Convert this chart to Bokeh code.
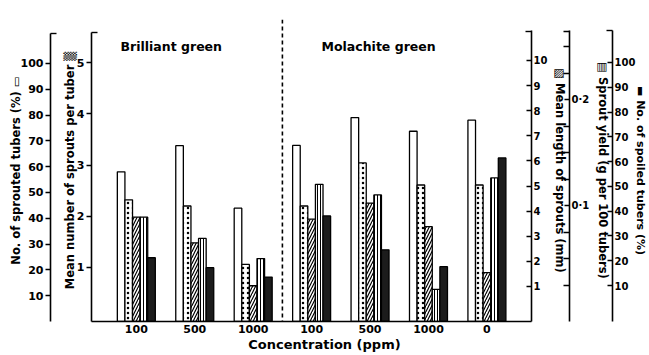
from bokeh.plotting import figure
from bokeh.models import Range1d, LinearAxis, FixedTicker, Span, Label
from bokeh.embed import file_html
from bokeh.resources import INLINE

# Concentration groups (ppm): three brilliant green treatments, then malachite green incl. control
groups = ["100", "500", "1000", "100", "500", "1000", "0"]
dye_names = ["Brilliant green", "Molachite green"]

# Five measured quantities per treatment
sprouted_pct = [58.0, 68.1, 43.9, 68.2, 79.0, 73.7, 78.0]        # No. of sprouted tubers (%)
sprouts_per_tuber = [2.32, 2.20, 1.06, 2.20, 3.04, 2.61, 2.61]   # Mean number of sprouts per tuber
sprout_length_mm = [3.76, 2.74, 1.03, 3.68, 4.32, 3.38, 1.55]    # Mean length of sprouts (mm)
sprout_yield = [0.089, 0.069, 0.050, 0.120, 0.110, 0.021, 0.126] # Sprout yield (g per 100 tubers)
spoiled_pct = [21.2, 17.2, 13.4, 38.1, 24.4, 17.6, 61.5]         # No. of spoiled tubers (%)

# axis titles with their key symbols
axis_titles = ["No. of sprouted tubers (%) \u25ad",
               "Mean number of sprouts per tuber \u2592",
               "\u25a7 Mean length of sprouts (mm)",
               "\u25a4 Sprout yield (g per 100 tubers)",
               "\u25ac No. of spoiled tubers (%)"]
x_title = "\u2003\u2003Concentration (ppm)"

FONT = "DejaVu Sans"

# plot frame in canvas pixels
FL, FR, FT, FB = 91, 533, 19, 321

p = figure(width=649, height=355, output_backend="svg", toolbar_location=None,
           x_range=Range1d(-0.767, 6.763), y_range=Range1d(0.0, 117.0),
           y_axis_location=None, min_border_left=FL, min_border_right=649 - FR,
           min_border_top=FT, min_border_bottom=355 - FB)
p.outline_line_color = None
p.xgrid.visible = False
p.ygrid.visible = False
p.background_fill_color = "white"
p.border_fill_color = "white"

p.extra_y_ranges = {
    "num": Range1d(-0.054, 5.84),
    "len": Range1d(-0.394, 11.63),
    "yld": Range1d(-0.0094, 0.2755),
    "spl": Range1d(-4.52, 117.35),
}


def style_axis(ax, side, ticks, minor, size="11px"):
    ax.ticker = FixedTicker(ticks=ticks, minor_ticks=minor)
    ax.axis_line_width = 1.6
    ax.axis_line_color = "black"
    ax.major_tick_line_width = 1.4
    ax.minor_tick_line_width = 1.4
    if side == "left":
        ax.major_tick_out, ax.major_tick_in = 5, 0
    else:
        ax.major_tick_out, ax.major_tick_in = 0, 5
    ax.minor_tick_out, ax.minor_tick_in = 0, 6
    ax.major_label_standoff = 2
    ax.major_label_text_font = FONT
    ax.major_label_text_font_style = "bold"
    ax.major_label_text_font_size = size
    ax.major_label_text_color = "black"


def bare_axis(rng="default", **kw):
    return LinearAxis(y_range_name=rng, ticker=FixedTicker(ticks=[]),
                      major_tick_out=0, major_tick_in=0,
                      minor_tick_out=0, minor_tick_in=0,
                      axis_line_color=None, major_tick_line_color=None,
                      minor_tick_line_color=None, major_label_standoff=0, **kw)


def spacer(width):
    # empty axis whose only extent is a blank title and its standoff
    return bare_axis(axis_label=" ", axis_label_text_font_size="2px",
                     axis_label_standoff=max(0, width - 2))


def title_axis(text, standoff, size="11.5px"):
    return bare_axis(axis_label=text, axis_label_standoff=standoff,
                     axis_label_text_font=FONT, axis_label_text_font_style="bold",
                     axis_label_text_font_size=size, axis_label_text_color="black")


# left: mean number of sprouts (inner), sprouted tubers % (outer)
ax_num = LinearAxis(y_range_name="num")
style_axis(ax_num, "left", [1, 2, 3, 4, 5], [5.58])
ax_num.bounds = (-0.054, 5.59)

ax_pct = LinearAxis()
style_axis(ax_pct, "left", list(range(10, 101, 10)), [111.5])
ax_pct.bounds = (0, 111.6)

p.add_layout(ax_num, "left")
p.add_layout(title_axis(axis_titles[1], -3), "left")
p.add_layout(spacer(6), "left")
p.add_layout(ax_pct, "left")
p.add_layout(title_axis(axis_titles[0], -5), "left")

# right: sprout length, sprout yield, spoiled tubers
ax_len = LinearAxis(y_range_name="len")
style_axis(ax_len, "right", list(range(1, 11)), [11.15], "10px")
ax_len.bounds = (-0.394, 11.2)

ax_yld = LinearAxis(y_range_name="yld")
style_axis(ax_yld, "right", [0.1, 0.2],
           [0.025, 0.05, 0.075, 0.125, 0.15, 0.175, 0.225, 0.25, 0.264], "10px")
ax_yld.major_label_overrides = {0.1: "0\u00b71", 0.2: "0\u00b72"}
ax_yld.bounds = (-0.0094, 0.265)

ax_spl = LinearAxis(y_range_name="spl")
style_axis(ax_spl, "right", list(range(10, 101, 10)), [112.8], "10px")
ax_spl.bounds = (-4.52, 112.9)

p.add_layout(ax_len, "right")
p.add_layout(title_axis(axis_titles[2], 2), "right")
p.add_layout(ax_yld, "right")
p.add_layout(title_axis(axis_titles[3], 3), "right")
p.add_layout(ax_spl, "right")
p.add_layout(title_axis(axis_titles[4], -5, "11px"), "right")

# x axis: concentrations
xa = p.xaxis[0]
xa.ticker = FixedTicker(ticks=list(range(len(groups))))
xa.major_label_overrides = {i: g for i, g in enumerate(groups)}
xa.major_tick_out = 0
xa.major_tick_in = 0
xa.minor_tick_out = 0
xa.minor_tick_in = 0
xa.axis_line_width = 1.6
xa.axis_line_color = "black"
xa.major_label_standoff = 3
xa.major_label_text_font = FONT
xa.major_label_text_font_style = "bold"
xa.major_label_text_font_size = "11px"
xa.major_label_text_color = "black"

xt = LinearAxis(ticker=FixedTicker(ticks=[]), major_tick_out=0, major_tick_in=0,
                minor_tick_out=0, minor_tick_in=0, axis_line_color=None,
                major_label_standoff=0, axis_label=x_title, axis_label_standoff=1,
                axis_label_text_font=FONT, axis_label_text_font_style="bold",
                axis_label_text_font_size="13px", axis_label_text_color="black")
p.add_layout(xt, "below")

# bar styles: open, dotted, diagonal hatch, vertical stripes, solid
styles = [
    dict(fill_color="white"),
    dict(fill_color="white", hatch_pattern="dot", hatch_scale=5, hatch_weight=1.2,
         hatch_color="black"),
    dict(fill_color="white", hatch_pattern="right_diagonal_line", hatch_scale=6,
         hatch_weight=1.2, hatch_color="black"),
    dict(fill_color="white", hatch_pattern="vertical_line", hatch_scale=3,
         hatch_weight=1.0, hatch_color="black"),
    dict(fill_color="#1c1c1c"),
]

# bars: five quantities per group, each on its own scale
bw = 0.13
series = [(sprouted_pct, "default"), (sprouts_per_tuber, "num"),
          (sprout_length_mm, "len"), (sprout_yield, "yld"), (spoiled_pct, "spl")]
for k, (vals, rng) in enumerate(series):
    r = p.y_range if rng == "default" else p.extra_y_ranges[rng]
    xs = [i + (k - 2) * bw for i in range(len(vals))]
    p.vbar(x=xs, width=bw, top=vals, bottom=r.start, y_range_name=rng,
           line_color="black", line_width=1.3, **styles[k])

# divider between the two dyes
p.add_layout(Span(location=2.5, dimension="height", line_color="black",
                  line_width=1.6, line_dash="4 3"))

for x, name in zip([-0.27, 3.17], dye_names):
    p.add_layout(Label(x=x, y=106.6, text=name, text_font=FONT, text_font_style="bold",
                       text_font_size="12.5px", text_baseline="middle", text_color="black"))

open("out.html", "w").write(file_html(p, INLINE))
